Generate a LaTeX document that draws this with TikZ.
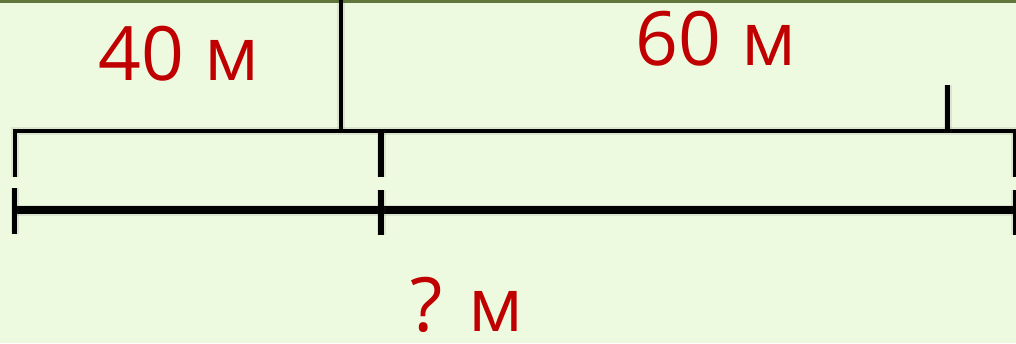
\documentclass[tikz,border=0pt]{standalone}
\usepackage{fontspec}
\setmainfont{Open Sans}
\definecolor{bg}{RGB}{238,250,224}
\definecolor{topline}{RGB}{96,118,58}
\definecolor{lbl}{RGB}{192,0,0}
\newcommand\myline[3]{%
  \draw[line width=#2, black!70, opacity=.12, shift={(3,3)}, line cap=butt] #3;
  \draw[line width=#1, black, line cap=butt, miter limit=10] #3;}
\begin{document}
\begin{tikzpicture}[x=1pt,y=-1pt,
  lab/.style={text=lbl, inner sep=0pt, anchor=base, text depth=0pt, font=\fontsize{75}{78}\selectfont}]
\fill[bg] (0,0) rectangle (1016,343);
\useasboundingbox (0,0) rectangle (1016,343);
\fill[topline] (0,0) rectangle (1016,3);
% coordinates
\coordinate (vt) at (341,0);
\coordinate (vb) at (341,133);
\coordinate (ulb) at (14.5,176.5);
\coordinate (ult) at (14.5,130.5);
\coordinate (ur) at (1016,130.5);
\coordinate (mt) at (381,130);
\coordinate (mb) at (381,176.5);
\coordinate (rt) at (1015,128.5);
\coordinate (rb) at (1015,176.5);
\coordinate (kt) at (947.5,85);
\coordinate (kb) at (947.5,133);
\coordinate (ll) at (12,210);
\coordinate (lr) at (1016,210);
\coordinate (l1t) at (14.5,188);
\coordinate (l1b) at (14.5,233.5);
\coordinate (l2t) at (381,190);
\coordinate (l2b) at (381,235);
\coordinate (l3t) at (1015,190);
\coordinate (l3b) at (1015,235);
% lines
\myline{4.5pt}{8pt}{(vt) -- (vb)}
\myline{4pt}{8pt}{(ulb) -- (ult) -- (ur)}
\myline{6pt}{9pt}{(mt) -- (mb)}
\myline{5pt}{8pt}{(rt) -- (rb)}
\myline{5pt}{8pt}{(kt) -- (kb)}
\myline{8pt}{11pt}{(ll) -- (lr)}
\myline{5pt}{8pt}{(l1t) -- (l1b)}
\myline{6pt}{9pt}{(l2t) -- (l2b)}
\myline{5pt}{8pt}{(l3t) -- (l3b)}
% labels
\node[lab] (a) at (179,80) {40 м};
\node[lab] (b) at (716,65) {60 м};
\node[lab] (c) at (467,331) {? м};
\end{tikzpicture}
\end{document}
